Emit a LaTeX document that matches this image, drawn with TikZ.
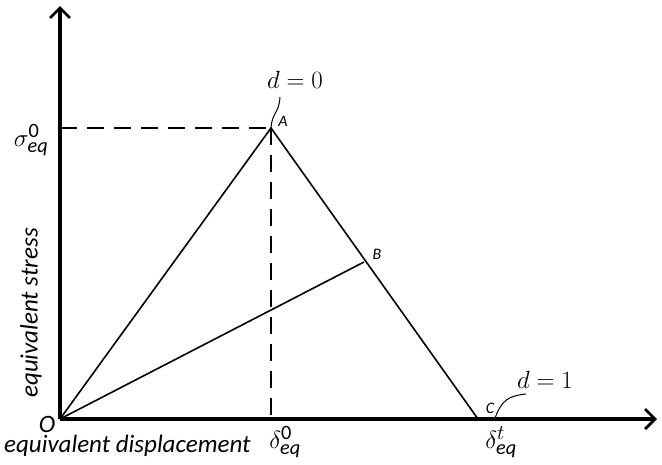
\documentclass[tikz,border=0pt]{standalone}
\usepackage{amsmath}
\usepackage{fontspec}
\setsansfont{Carlito}
\usetikzlibrary{arrows.meta}
\tikzset{
  axis/.style={line width=3.2pt,-{Straight Barb[length=10pt,width=20pt,line width=2.8pt]}},
  branch/.style={line width=1.6pt},
  guide/.style={line width=1.6pt,dash pattern=on 17pt off 10pt},
  lab/.style={font=\sffamily\itshape\fontsize{25}{27}\selectfont,inner sep=0pt},
  ylab/.style={font=\sffamily\itshape\fontsize{25}{27}\selectfont,inner sep=0pt},
  ptlab/.style={font=\sffamily\itshape\fontsize{16}{18}\selectfont,inner sep=0pt},
  mlab/.style={font=\fontsize{29}{31}\selectfont,inner sep=0pt},
  dlab/.style={font=\fontsize{23}{25}\selectfont,inner sep=0pt},
  squig/.style={line width=1pt}
}
\newcommand{\eqsub}{\textsf{\textit{eq}}}
\newcommand{\zsup}{\textsf{0}}
\begin{document}
\begin{tikzpicture}[x=1pt,y=-1pt]
\useasboundingbox (0,0) rectangle (662,464);
\coordinate (O) at (60,419);
\coordinate (A) at (271,128);
\coordinate (B) at (364,262);
\coordinate (C) at (478,419);
\coordinate (ytop) at (60,6);
\coordinate (xend) at (657,419);
\coordinate (yA) at (60,128);
\coordinate (xA) at (271,419);
\coordinate (d0end) at (280,97);
\coordinate (c0) at (495,418);
\coordinate (d1end) at (526,394);
% guides
\draw[guide] (yA) -- (A);
\draw[guide] (A) -- (xA);
% branches
\draw[branch] (O) -- (A) -- (C);
\draw[branch] (O) -- (B);
% axes
\draw[axis] (O) -- (ytop);
\draw[axis] (O) -- (xend);
% squiggles
\draw[squig] (A) .. controls (272,112) and (279,114) .. (d0end);
\draw[squig] (c0) .. controls (502,400) and (508,396) .. (d1end);
% labels
\node[lab] (Olab) at (47,424) {O};
\node[ptlab] (Alab) at (283,121) {A};
\node[ptlab] (Blab) at (377,254) {B};
\node[ptlab] (Clab) at (490,408) {C};
\node[dlab] (d0) at (295,80) {$d=0$};
\node[dlab] (d1) at (545,380) {$d=1$};
\node[mlab] (sig) at (31,140) {$\sigma^{\zsup}_{\eqsub}$};
\node[mlab] (del0) at (285,442) {$\delta^{\zsup}_{\eqsub}$};
\node[mlab] (delt) at (501,442) {$\delta^{t}_{\eqsub}$};
\node[lab,anchor=west] (xl) at (4,446) {equivalent displacement};
\node[ylab,rotate=90] (yl) at (31,313) {equivalent stress};
\end{tikzpicture}
\end{document}
